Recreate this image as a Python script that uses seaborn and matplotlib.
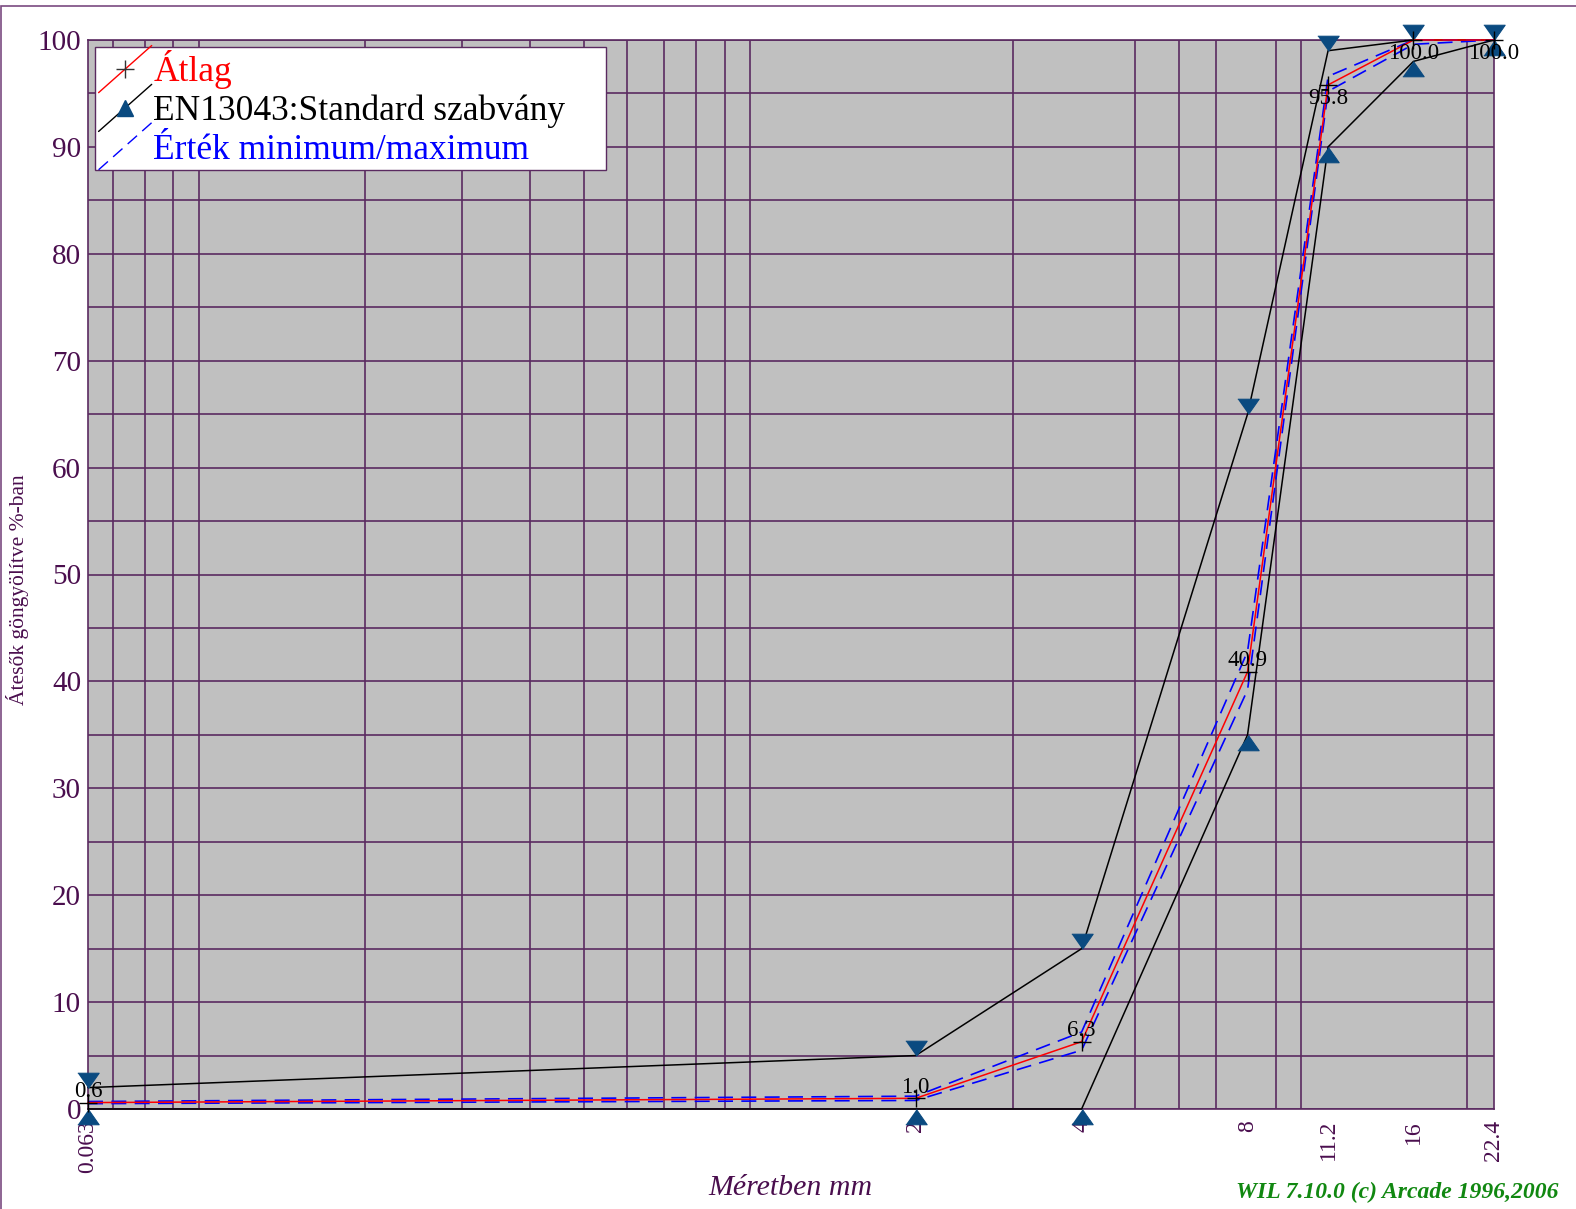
import numpy as np
import matplotlib
matplotlib.use("Agg")
import matplotlib.pyplot as plt
import seaborn as sns
from matplotlib.lines import Line2D
from matplotlib.legend_handler import HandlerLine2D
from matplotlib.patches import Rectangle

# sieve sizes (mm) and cumulative passing (%)
sizes = [0.063, 2, 4, 8, 11.2, 16, 22.4]
mean_pass = [0.6, 1.0, 6.3, 40.9, 95.8, 100.0, 100.0]
std_upper = [2, 5, 15, 65, 99, 100, 100]
std_lower = [0, 0, 0, 35, 90, 98, 100]
val_max = [0.7, 1.2, 7.2, 42.8, 96.6, 100, 100]
val_min = [0.5, 0.8, 5.5, 39.2, 95.2, 99.6, 100]
tick_labels = ["0.063", "2", "4", "8", "11.2", "16", "22.4"]

PURPLE = "#4a0e4e"
GRID = "#5a2a60"
NAVY = "#0a4a80"

sns.set_style("white")
plt.rcParams["font.family"] = ["Liberation Serif", "DejaVu Serif"]


class DiagonalHandler(HandlerLine2D):
    """Legend handle drawn as a diagonal line with the marker in the middle."""
    def create_artists(self, legend, orig_handle, xdescent, ydescent,
                       width, height, fontsize, trans):
        x0, y0 = -xdescent, -ydescent
        line = Line2D([x0, x0 + width], [y0 - 0.45 * height, y0 + 1.45 * height])
        self.update_prop(line, orig_handle, legend)
        line.set_marker("None")
        mk = Line2D([x0 + width / 2], [y0 + height / 2])
        self.update_prop(mk, orig_handle, legend)
        mk.set_linestyle("None")
        line.set_transform(trans)
        mk.set_transform(trans)
        return [line, mk]


fig = plt.figure(figsize=(15.76, 12.09), dpi=100)
ax = fig.add_axes([88 / 1576, 1 - 1109 / 1209, (1494 - 88) / 1576, (1109 - 40) / 1209])
ax.set_facecolor("#c0c0c0")
ax.set_xscale("log")

tri_down = [(-0.7, 1), (0.7, 1), (0, 0)]
tri_up = [(-0.7, -1), (0.7, -1), (0, 0)]

sns.lineplot(x=sizes, y=std_upper, ax=ax, color="black", lw=1.1,
             marker=tri_down, ms=22, mfc=NAVY, mec=NAVY, clip_on=False, zorder=3)
sns.lineplot(x=sizes, y=std_lower, ax=ax, color="black", lw=1.1,
             marker=tri_up, ms=22, mfc=NAVY, mec=NAVY, clip_on=False, zorder=3)
for series in (val_max, val_min):
    sns.lineplot(x=sizes, y=series, ax=ax, color="blue", lw=1.2,
                 dashes=(9, 5), clip_on=False, zorder=4)
sns.lineplot(x=sizes, y=mean_pass, ax=ax, color="red", lw=1.1,
             marker="+", ms=13, mec="black", mew=1.0, clip_on=False, zorder=5)

for x, v in zip(sizes, mean_pass):
    if v > 90:
        ax.annotate(f"{v:.1f}", (x, v), xytext=(0, -2), textcoords="offset points",
                    ha="center", va="top", fontsize=16.5, color="black", zorder=6,
                    annotation_clip=False)
    else:
        ax.annotate(f"{v:.1f}", (x, v), xytext=(0, 4), textcoords="offset points",
                    ha="center", va="baseline", fontsize=16.5, color="black", zorder=6,
                    annotation_clip=False)

ax.set_xlim(0.063, 22.4)
ax.set_ylim(0, 100)

# grid lines at the usual log positions, ticks at the sieve sizes
grid_x = np.concatenate([np.arange(7, 10) * 0.01, np.arange(1, 10) * 0.1,
                         np.arange(1, 11) * 1.0, [20.0]])
ax.set_xticks(sizes)
ax.set_xticklabels(tick_labels, rotation=90)
ax.set_xticks(grid_x, minor=True)
ax.set_xticklabels([], minor=True)
ax.set_yticks(np.arange(0, 101, 10))
ax.set_yticks(np.arange(5, 100, 10), minor=True)

ax.grid(which="minor", axis="x", color=GRID, lw=1.2)
ax.grid(which="both", axis="y", color=GRID, lw=1.2)
ax.set_axisbelow(True)

ax.tick_params(axis="x", which="major", length=7, width=1, color=PURPLE,
               labelcolor=PURPLE, labelsize=17, pad=1)
ax.tick_params(axis="y", which="major", length=5, width=1, color=PURPLE,
               labelcolor=PURPLE, labelsize=21, pad=0)
ax.tick_params(which="minor", length=0)
for sp in ax.spines.values():
    sp.set_color(GRID)
    sp.set_linewidth(1.2)

handles = [
    Line2D([], [], color="red", lw=1, marker="+", ms=13, mec="#333333", mew=1),
    Line2D([], [], color="black", lw=1, marker="^", ms=12, mfc=NAVY, mec=NAVY),
    Line2D([], [], color="blue", lw=1, dashes=(9, 5)),
]
leg = ax.legend(handles, ["Átlag", "EN13043:Standard szabvány", "Érték minimum/maximum"],
                handler_map={Line2D: DiagonalHandler()},
                loc="upper left", bbox_to_anchor=(0.005, 0.9935, 0.3635, 0.0),
                mode="expand", borderaxespad=0, borderpad=0.1, labelspacing=0.15,
                handlelength=1.5, handletextpad=0.05, fontsize=25.5,
                fancybox=False, framealpha=1, edgecolor=GRID,
                labelcolor=["red", "black", "blue"])
leg.get_frame().set_linewidth(1)
leg.set_zorder(10)

fig.text(790 / 1576, 1 - 1188 / 1209, "Méretben mm", ha="center", va="center",
         fontsize=21.5, style="italic", color=PURPLE)
fig.text(18 / 1576, 1 - 590 / 1209, "Átesők göngyölítve %-ban", ha="center", va="center",
         rotation=90, fontsize=15.5, color=PURPLE)
fig.text(1236 / 1576, 1 - 1192 / 1209, "WIL 7.10.0 (c) Arcade 1996,2006", ha="left",
         va="center", fontsize=17, style="italic", weight="bold", color="#118811")

fig.patches.append(Rectangle((1 / 1576, -0.1), 1.2, 1.1 - 6 / 1209, fill=False,
                             edgecolor="#7a4a80", lw=1.2, transform=fig.transFigure))

fig.savefig("out.png", dpi=100)
